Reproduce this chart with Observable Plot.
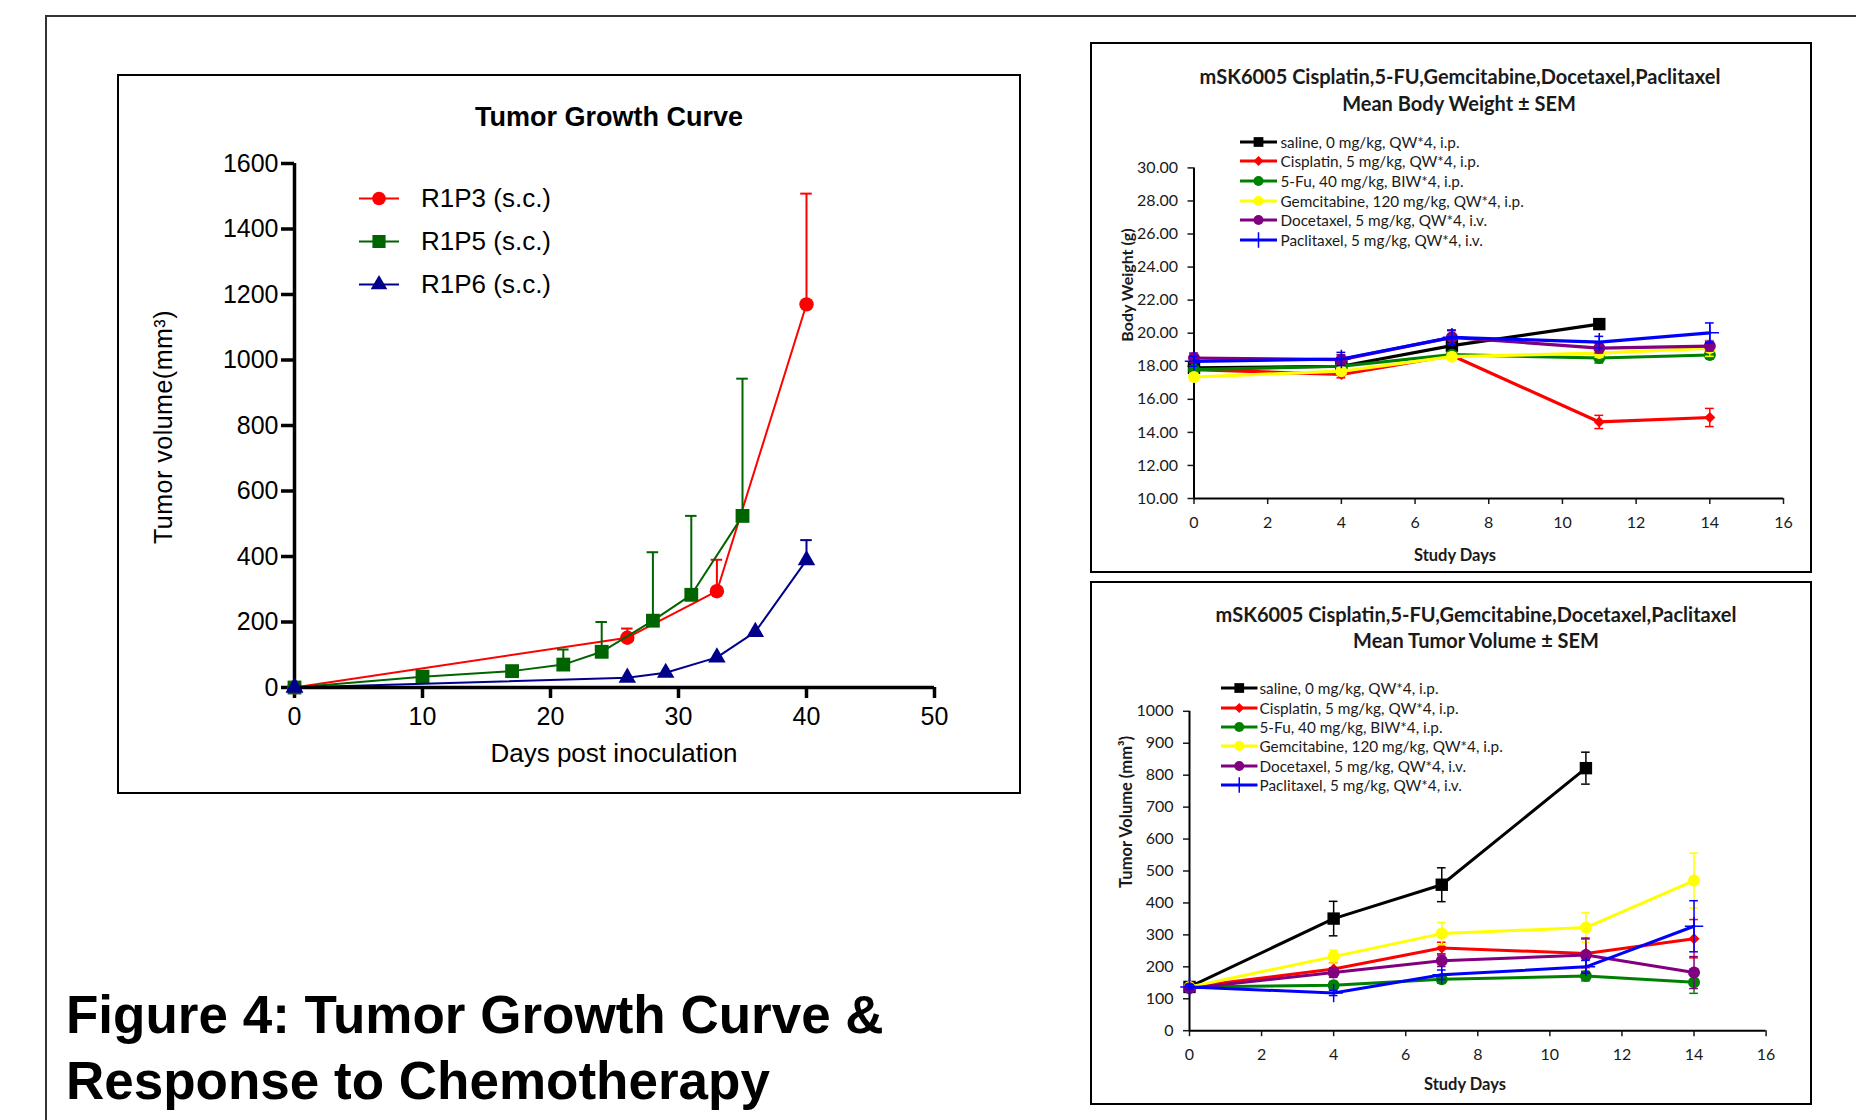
<!DOCTYPE html>
<html><head><meta charset="utf-8">
<script src="https://cdn.jsdelivr.net/npm/d3@7"></script>
<script src="https://cdn.jsdelivr.net/npm/@observablehq/plot@0.6"></script>
<style>
html,body{margin:0;padding:0;background:#fff;}
body{width:1856px;height:1120px;position:relative;overflow:hidden;font-family:"Liberation Sans",Arial,sans-serif;}
.frame{position:absolute;left:45px;top:15px;width:1900px;height:1200px;border-left:2px solid #333;border-top:2px solid #333;}
.panel{position:absolute;border:2px solid #000;box-sizing:border-box;}
svg.plot{position:absolute;}
</style></head><body>
<div class="frame"></div>
<div class="panel" style="left:117px;top:74px;width:904px;height:720px;"></div>
<div class="panel" style="left:1090px;top:42px;width:722px;height:531px;"></div>
<div class="panel" style="left:1090px;top:581px;width:722px;height:524px;"></div>
<div id="heading" style="position:absolute;left:66px;top:982px;font:bold 53px 'Liberation Sans',Arial,sans-serif;line-height:66px;color:#000;white-space:nowrap;">Figure 4: Tumor Growth Curve &amp;<br>Response to Chemotherapy</div>
<script>
// ---------- Left chart data: Tumor Growth Curve ----------
const growthSeries = ["R1P3 (s.c.)", "R1P5 (s.c.)", "R1P6 (s.c.)"];
const growthColors = ["#ff0000", "#006400", "#00008b"];
const r1p3Days = [0, 26, 33, 40];
const r1p3Vol  = [0, 152, 294, 1170];
const r1p3Err  = [0, 28, 96, 338];
const r1p5Days = [0, 10, 17, 21, 24, 28, 31, 35];
const r1p5Vol  = [0, 33, 50, 70, 109, 204, 283, 524];
const r1p5Err  = [0, 0, 0, 46, 91, 209, 241, 419];
const r1p6Days = [0, 26, 29, 33, 36, 40];
const r1p6Vol  = [0, 30, 45, 92, 170, 389];
const r1p6Err  = [0, 0, 0, 0, 0, 61];
const growthXTicks = [0, 10, 20, 30, 40, 50];
const growthYTicks = [0, 200, 400, 600, 800, 1000, 1200, 1400, 1600];

// ---------- Right charts data ----------
const studyDays = [0, 4, 7, 11, 14];
const groups = ["saline, 0 mg/kg, QW*4, i.p.", "Cisplatin, 5 mg/kg, QW*4, i.p.", "5-Fu, 40 mg/kg, BIW*4, i.p.", "Gemcitabine, 120 mg/kg, QW*4, i.p.", "Docetaxel, 5 mg/kg, QW*4, i.v.", "Paclitaxel, 5 mg/kg, QW*4, i.v."];
const groupColors = ["#000000", "#ff0000", "#008000", "#ffff00", "#800080", "#0000ff"];
const groupSymbols = ["square", "diamond2", "circle", "circle", "circle", "plus"];

const bwSaline = [17.9, 18.0, 19.25, 20.55, null];
const bwCis    = [17.8, 17.5, 18.65, 14.63, 14.9];
const bwFu     = [17.8, 18.0, 18.7, 18.5, 18.68];
const bwGem    = [17.35, 17.7, 18.58, 18.8, 19.1];
const bwDoc    = [18.5, 18.4, 19.75, 19.1, 19.22];
const bwPac    = [18.3, 18.44, 19.75, 19.46, 20.02];
const bwSalineSem = [0.3, 0.2, 0.2, 0.25, null];
const bwCisSem    = [0.2, 0.2, 0.15, 0.4, 0.55];
const bwFuSem     = [0.2, 0.15, 0.15, 0.3, 0.2];
const bwGemSem    = [0.2, 0.2, 0.2, 0.25, 0.5];
const bwDocSem    = [0.3, 0.3, 0.4, 0.3, 0.3];
const bwPacSem    = [0.3, 0.4, 0.45, 0.35, 0.6];
const bwYTicks = [10, 12, 14, 16, 18, 20, 22, 24, 26, 28, 30];

const tvSaline = [137, 351, 457, 822, null];
const tvCis    = [137, 193, 259, 242, 288];
const tvFu     = [137, 142, 161, 171, 152];
const tvGem    = [137, 232, 304, 323, 470];
const tvDoc    = [133, 182, 219, 237, 182];
const tvPac    = [137, 118, 175, 200, 327];
const tvSalineSem = [10, 54, 53, 50, null];
const tvCisSem    = [8, 20, 18, 45, 60];
const tvFuSem     = [8, 12, 12, 15, 35];
const tvGemSem    = [8, 20, 35, 46, 86];
const tvDocSem    = [8, 15, 18, 53, 50];
const tvPacSem    = [8, 8, 15, 20, 80];
const tvYTicks = [0, 100, 200, 300, 400, 500, 600, 700, 800, 900, 1000];
const dayTicks = [0, 2, 4, 6, 8, 10, 12, 14, 16];

// ---------- helpers ----------
const plain = d => String(d);
function place(el, left, top) {
  el.classList.add("plot");
  el.style.position = "absolute";
  el.style.left = left + "px";
  el.style.top = top + "px";
  document.body.appendChild(el);
}
function textDiv(txt, cx, cy, css, rotate) {
  const d = document.createElement("div");
  d.textContent = txt;
  d.style.cssText = `position:absolute;left:${cx}px;top:${cy}px;white-space:nowrap;line-height:1;transform:translate(-50%,-50%)${rotate ? " rotate(-90deg)" : ""};` + css;
  document.body.appendChild(d);
}
const d3Sym = {square: d3.symbolSquare, circle: d3.symbolCircle, diamond2: d3.symbolDiamond2, plus: d3.symbolPlus, triangle: d3.symbolTriangle};
function legendRow(x0, lineW, cy, color, sym, r, label, css, lw) {
  const d = document.createElement("div");
  d.style.cssText = `position:absolute;left:${x0}px;top:${cy}px;transform:translateY(-50%);display:flex;align-items:center;white-space:nowrap;` + css;
  const ns = "http://www.w3.org/2000/svg";
  const s = document.createElementNS(ns, "svg");
  s.setAttribute("width", lineW.w); s.setAttribute("height", 24);
  s.style.display = "block";
  const ln = document.createElementNS(ns, "line");
  ln.setAttribute("x1", 0); ln.setAttribute("x2", lineW.line); ln.setAttribute("y1", 12); ln.setAttribute("y2", 12);
  ln.setAttribute("stroke", color); ln.setAttribute("stroke-width", lw);
  s.appendChild(ln);
  const p = document.createElementNS(ns, "path");
  p.setAttribute("d", d3.symbol(d3Sym[sym], Math.PI * r * r)());
  p.setAttribute("transform", `translate(${lineW.line / 2},12)`);
  if (sym === "plus") { p.setAttribute("fill", "none"); p.setAttribute("stroke", color); p.setAttribute("stroke-width", 1.5); }
  else p.setAttribute("fill", color);
  s.appendChild(p);
  d.appendChild(s);
  const t = document.createElement("span");
  t.textContent = label;
  d.appendChild(t);
  document.body.appendChild(d);
}

// ---------- Left chart ----------
const growthData = [
  r1p3Days.map((d, i) => ({day: d, v: r1p3Vol[i], e: r1p3Err[i]})),
  r1p5Days.map((d, i) => ({day: d, v: r1p5Vol[i], e: r1p5Err[i]})),
  r1p6Days.map((d, i) => ({day: d, v: r1p6Vol[i], e: r1p6Err[i]}))
];
const growthSym = ["circle", "square", "triangle"];
const growthR = [7.2, 7.8, 6.5];
const growthMarks = [];
growthData.forEach((data, i) => {
  const eb = data.filter(d => d.e > 0);
  growthMarks.push(
    Plot.ruleX(eb, {x: "day", y1: "v", y2: d => d.v + d.e, stroke: growthColors[i], strokeWidth: 2}),
    Plot.ruleY(eb, {y: d => d.v + d.e, x1: d => d.day - 0.45, x2: d => d.day + 0.45, stroke: growthColors[i], strokeWidth: 2}),
    Plot.line(data, {x: "day", y: "v", stroke: growthColors[i], strokeWidth: 2}),
    Plot.dot(data, {x: "day", y: "v", fill: growthColors[i], r: growthR[i], symbol: growthSym[i], stroke: "none"})
  );
});
const growthFig = Plot.plot({
  width: 898, height: 714,
  marginLeft: 174, marginRight: 84, marginTop: 86, marginBottom: 104,
  x: {domain: [0, 50]},
  y: {domain: [0, 1600]},
  style: {fontFamily: "'Liberation Sans', Arial, sans-serif", fontSize: "25px", color: "#000", background: "transparent", overflow: "visible"},
  marks: [
    Plot.axisX({ticks: growthXTicks, tickSize: 11, tickPadding: 9, strokeWidth: 3.5, label: null, tickFormat: plain}),
    Plot.axisY({ticks: growthYTicks, tickSize: 13, tickPadding: 3, strokeWidth: 3.5, label: null, tickFormat: plain}),
    ...growthMarks,
    Plot.ruleY([0], {strokeWidth: 3.5, stroke: "#000"}),
    Plot.ruleX([0], {strokeWidth: 3.5, stroke: "#000"}),
    Plot.dot(growthData.map(s => s[0]).slice(2), {x: "day", y: "v", fill: growthColors[2], r: growthR[2], symbol: "triangle"})
  ]
});
place(growthFig, 120, 77);
textDiv("Tumor Growth Curve", 609, 117, "font:bold 27px 'Liberation Sans',Arial,sans-serif;color:#000;");
textDiv("Days post inoculation", 614, 753, "font:26px 'Liberation Sans',Arial,sans-serif;color:#000;");
textDiv("Tumor volume(mm³)", 163, 427, "font:25px 'Liberation Sans',Arial,sans-serif;color:#000;letter-spacing:0.5px;", true);
const growthLegendY = [198, 241, 284];
growthSeries.forEach((s, i) => legendRow(359, {w: 62, line: 40}, growthLegendY[i], growthColors[i], growthSym[i], growthR[i] * 0.95, s, "font:26px 'Liberation Sans',Arial,sans-serif;color:#000;", 2));

// ---------- Right charts ----------
function groupMarks(valsList, semList, capW, lw) {
  const marks = [];
  valsList.forEach((vals, i) => {
    const data = studyDays.map((d, j) => ({day: d, v: vals[j], e: semList[i][j]})).filter(d => d.v != null);
    const col = groupColors[i];
    marks.push(
      Plot.ruleX(data, {x: "day", y1: d => d.v - d.e, y2: d => d.v + d.e, stroke: col, strokeWidth: 1.5}),
      Plot.ruleY(data, {y: d => d.v + d.e, x1: d => d.day - capW, x2: d => d.day + capW, stroke: col, strokeWidth: 1.5}),
      Plot.ruleY(data, {y: d => d.v - d.e, x1: d => d.day - capW, x2: d => d.day + capW, stroke: col, strokeWidth: 1.5}),
      Plot.line(data, {x: "day", y: "v", stroke: col, strokeWidth: lw})
    );
    const sym = groupSymbols[i];
    if (sym === "plus") marks.push(Plot.dot(data, {x: "day", y: "v", stroke: col, strokeWidth: 1.5, r: 6, symbol: "plus"}));
    else marks.push(Plot.dot(data, {x: "day", y: "v", fill: col, stroke: "none", r: sym === "square" ? 7 : (sym === "diamond2" ? 5 : 6), symbol: sym}));
  });
  return marks;
}
const rightStyle = {fontFamily: "Lato, 'Open Sans', sans-serif", fontSize: "16px", color: "#1a1a1a", background: "transparent", overflow: "visible"};

const bwFig = Plot.plot({
  width: 716, height: 525,
  marginLeft: 100.5, marginRight: 26, marginTop: 122.4, marginBottom: 72,
  x: {domain: [0, 16]},
  y: {domain: [10, 30]},
  style: rightStyle,
  marks: [
    Plot.axisX({ticks: dayTicks, tickSize: 6, tickPadding: 12, strokeWidth: 1.5, label: null, tickFormat: plain}),
    Plot.axisY({ticks: bwYTicks, tickSize: 6, tickPadding: 10, strokeWidth: 1.5, label: null, tickFormat: d3.format(".2f")}),
    Plot.ruleY([10], {stroke: "#000", strokeWidth: 2}),
    Plot.ruleX([0], {stroke: "#000", strokeWidth: 2}),
    ...groupMarks([bwSaline, bwCis, bwFu, bwGem, bwDoc, bwPac], [bwSalineSem, bwCisSem, bwFuSem, bwGemSem, bwDocSem, bwPacSem], 0.12, 3.2)
  ]
});
place(bwFig, 1093, 45);

const tvFig = Plot.plot({
  width: 716, height: 518,
  marginLeft: 96, marginRight: 43.4, marginTop: 126.8, marginBottom: 71.8,
  x: {domain: [0, 16]},
  y: {domain: [0, 1000]},
  style: rightStyle,
  marks: [
    Plot.axisX({ticks: dayTicks, tickSize: 6, tickPadding: 12, strokeWidth: 1.5, label: null, tickFormat: plain}),
    Plot.axisY({ticks: tvYTicks, tickSize: 6, tickPadding: 10, strokeWidth: 1.5, label: null, tickFormat: plain}),
    Plot.ruleY([0], {stroke: "#000", strokeWidth: 2}),
    Plot.ruleX([0], {stroke: "#000", strokeWidth: 2}),
    ...groupMarks([tvSaline, tvCis, tvFu, tvGem, tvDoc, tvPac], [tvSalineSem, tvCisSem, tvFuSem, tvGemSem, tvDocSem, tvPacSem], 0.12, 3)
  ]
});
place(tvFig, 1093, 584);

const titleCss = "font:bold 20px Lato,'Open Sans',sans-serif;color:#1a1a1a;";
textDiv("mSK6005 Cisplatin,5-FU,Gemcitabine,Docetaxel,Paclitaxel", 1460, 76, titleCss);
textDiv("Mean Body Weight ± SEM", 1459, 103, titleCss);
textDiv("mSK6005 Cisplatin,5-FU,Gemcitabine,Docetaxel,Paclitaxel", 1476, 614, titleCss);
textDiv("Mean Tumor Volume ± SEM", 1476, 640, titleCss);
textDiv("Study Days", 1455, 555, "font:bold 16.5px Lato,'Open Sans',sans-serif;color:#1a1a1a;");
textDiv("Study Days", 1465, 1084, "font:bold 16.5px Lato,'Open Sans',sans-serif;color:#1a1a1a;");
textDiv("Body Weight (g)", 1126, 285, "font:bold 16px Lato,'Open Sans',sans-serif;color:#1a1a1a;", true);
textDiv("Tumor Volume (mm³)", 1126, 812, "font:bold 16.5px Lato,'Open Sans',sans-serif;color:#1a1a1a;", true);

const bwLegY = [142.3, 161.2, 181.2, 200.8, 220.1, 239.7];
const tvLegY = [688.2, 707.8, 727.0, 746.3, 765.9, 785.2];
const legCss = "font:15.3px Lato,'Open Sans',sans-serif;color:#1a1a1a;";
groups.forEach((g, i) => {
  const r = groupSymbols[i] === "square" ? 5.5 : (groupSymbols[i] === "diamond2" ? 4.5 : 5);
  legendRow(1240, {w: 40.5, line: 37}, bwLegY[i], groupColors[i], groupSymbols[i], r, g, legCss, 3);
  legendRow(1221, {w: 38.5, line: 36.5}, tvLegY[i], groupColors[i], groupSymbols[i], r, g, legCss, 3);
});
</script>
</body></html>
